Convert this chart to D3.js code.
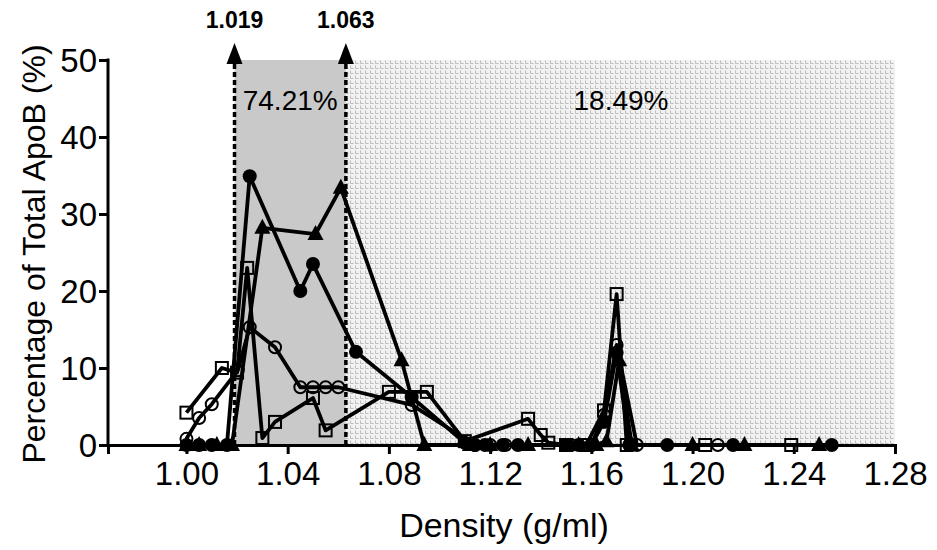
<!DOCTYPE html>
<html><head><meta charset="utf-8">
<script src="https://cdn.jsdelivr.net/npm/d3@7"></script>
<style>body{margin:0;background:#fff}svg{display:block}text{font-family:"Liberation Sans",Arial,sans-serif}</style>
</head><body><svg id="c" width="937" height="550"></svg>
<script>
const xTicks = [1.00,1.04,1.08,1.12,1.16,1.20,1.24,1.28];
const yTicks = [0,10,20,30,40,50];
const cutoffs = [1.019, 1.063];
const regionLabels = ["74.21%", "18.49%"];

const dFilledCircle = [1.000,1.005,1.010,1.016,1.025,1.045,1.050,1.067,1.089,1.110,1.114,1.118,1.125,1.131,1.150,1.155,1.160,1.165,1.170,1.175,1.190,1.216,1.255];
const vFilledCircle = [0,0,0,0,34.9,20,23.5,12.1,6.2,0.3,0,0,0,0,0,0,0,3,12,0,0,0,0];

const dTriangle = [1.000,1.005,1.012,1.018,1.030,1.051,1.061,1.085,1.094,1.112,1.120,1.135,1.155,1.162,1.166,1.171,1.176,1.200,1.2205,1.250];
const vTriangle = [0,0,0,0,28.2,27.4,33.4,11,0,0,0,0,0,0,0.5,11,0,0,0,0];

const dOpenSquare = [1.000,1.014,1.020,1.024,1.030,1.035,1.050,1.055,1.080,1.095,1.110,1.135,1.140,1.143,1.150,1.158,1.165,1.170,1.174,1.205,1.239];
const vOpenSquare = [4.2,10,9.4,23,0.9,3,6.1,1.9,6.9,6.9,0.5,3.4,1.3,0.3,0,0,4.5,19.6,0,0,0];

const dOpenCircle = [1.000,1.005,1.010,1.0203,1.025,1.035,1.045,1.050,1.055,1.060,1.089,1.114,1.120,1.126,1.152,1.160,1.165,1.170,1.178,1.210];
const vOpenCircle = [0.8,3.5,5.3,9.7,15.3,12.7,7.5,7.5,7.5,7.5,5.2,0,0,0,0,0,3.9,13,0,0];

const svg = d3.select("#c");
const x = d3.scaleLinear().domain([0.969,1.28]).range([108,895]);
const y = d3.scaleLinear().domain([0,50]).range([445,60]);

// pattern
const defs = svg.append("defs");
const pat = defs.append("pattern").attr("id","hatch").attr("patternUnits","userSpaceOnUse")
  .attr("width",5).attr("height",5);
pat.append("rect").attr("width",5).attr("height",5).attr("fill","#f2f2f2");
pat.append("path").attr("d","M0.5,0.5 V3.5 H3.5").attr("fill","none").attr("stroke","#bdbdbd").attr("stroke-width",1);

svg.append("rect").attr("x",x(cutoffs[1])).attr("y",y(50)).attr("width",x(1.28)-x(cutoffs[1])).attr("height",y(0)-y(50)).attr("fill","url(#hatch)");
svg.append("rect").attr("x",x(cutoffs[0])).attr("y",y(50)).attr("width",x(cutoffs[1])-x(cutoffs[0])).attr("height",y(0)-y(50)).attr("fill","#c9c9c9");

// region labels
svg.append("text").attr("x",(x(cutoffs[0])+x(cutoffs[1]))/2).attr("y",110).attr("text-anchor","middle").attr("font-size",28).text(regionLabels[0]);
svg.append("text").attr("x",621).attr("y",110).attr("text-anchor","middle").attr("font-size",28).text(regionLabels[1]);

// dashed cutoff lines with arrows
cutoffs.forEach(c=>{
  const cx = x(c);
  svg.append("line").attr("x1",cx).attr("x2",cx).attr("y1",y(0)).attr("y2",60)
    .attr("stroke","#000").attr("stroke-width",3.5).attr("stroke-dasharray","5,3");
  svg.append("path").attr("d",`M${cx},43 L${cx-8},64 L${cx+8},64 Z`).attr("fill","#000");
  svg.append("text").attr("x",cx).attr("y",28).attr("text-anchor","middle").attr("font-size",23).attr("font-weight","bold").text(c.toFixed(3));
});

const line = d3.line().x(d=>x(d[0])).y(d=>y(d[1]));
const series = [
  {d:dOpenCircle, v:vOpenCircle, m:"ocircle"},
  {d:dOpenSquare, v:vOpenSquare, m:"osquare"},
  {d:dTriangle, v:vTriangle, m:"triangle"},
  {d:dFilledCircle, v:vFilledCircle, m:"fcircle"}
];
series.forEach(s=>{
  const pts = s.d.map((d,i)=>[d,s.v[i]]);
  svg.append("path").datum(pts).attr("d",line).attr("fill","none").attr("stroke","#000").attr("stroke-width",3.8).attr("stroke-linejoin","round");
});
series.forEach(s=>{
  const pts = s.d.map((d,i)=>[d,s.v[i]]);
  const g = svg.append("g");
  pts.forEach(p=>{
    const px=x(p[0]), py=y(p[1]);
    if(s.m==="fcircle") g.append("circle").attr("cx",px).attr("cy",py).attr("r",7).attr("fill","#000");
    else if(s.m==="ocircle") g.append("circle").attr("cx",px).attr("cy",py).attr("r",6).attr("fill","none").attr("stroke","#000").attr("stroke-width",2);
    else if(s.m==="osquare") g.append("rect").attr("x",px-6).attr("y",py-6).attr("width",12).attr("height",12).attr("fill","none").attr("stroke","#000").attr("stroke-width",2);
    else g.append("path").attr("d",`M${px},${py-9} L${px-8},${py+6} L${px+8},${py+6} Z`).attr("fill","#000");
  });
});

// axes
const xa = svg.append("g").attr("transform",`translate(0,${y(0)})`)
  .call(d3.axisBottom(x).tickValues(xTicks).tickFormat(d3.format(".2f")).tickSizeOuter(0).tickSize(9).tickPadding(8));
const ya = svg.append("g").attr("transform",`translate(${x(0.969)},0)`)
  .call(d3.axisLeft(y).tickValues(yTicks).tickSizeOuter(0).tickSize(9).tickPadding(2));
[xa,ya].forEach(a=>{
  a.attr("font-size",33).attr("font-family","Liberation Sans, Arial, sans-serif");
  a.select(".domain").attr("stroke-width",3);
  a.selectAll(".tick line").attr("stroke-width",3);
  a.selectAll(".tick text").attr("fill","#000");
});
ya.selectAll(".tick text").attr("dy","0.35em");
ya.select(".domain").attr("d",`M0,${y(50)-1.5}V${y(0)+1.5}`);

svg.append("text").attr("x",504).attr("y",537).attr("text-anchor","middle").attr("font-size",34).text("Density (g/ml)");
svg.append("text").attr("transform","translate(45,254) rotate(-90)").attr("text-anchor","middle").attr("font-size",32).text("Percentage of Total ApoB (%)");
</script></body></html>
